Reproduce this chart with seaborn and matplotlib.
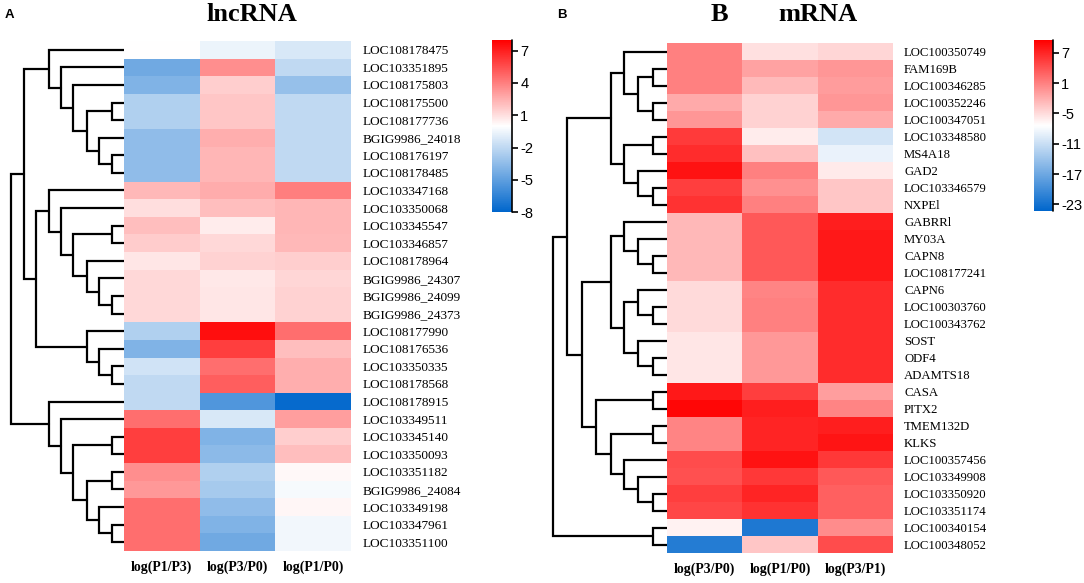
import numpy as np
import pandas as pd
import seaborn as sns
import matplotlib.pyplot as plt
from matplotlib.colors import LinearSegmentedColormap

sns.set_theme(style="white")
plt.rcParams["font.family"] = ["Liberation Serif", "DejaVu Serif"]
plt.rcParams["axes.unicode_minus"] = False
plt.rcParams["text.color"] = "black"
plt.rcParams["xtick.color"] = "black"
plt.rcParams["ytick.color"] = "black"

# --------------------------------------------------------------------
# data: lncRNA (panel A)
# --------------------------------------------------------------------
lnc_genes = ["LOC108178475", "LOC103351895", "LOC108175803", "LOC108175500", "LOC108177736",
             "BGIG9986_24018", "LOC108176197", "LOC108178485", "LOC103347168", "LOC103350068",
             "LOC103345547", "LOC103346857", "LOC108178964", "BGIG9986_24307", "BGIG9986_24099",
             "BGIG9986_24373", "LOC108177990", "LOC108176536", "LOC103350335", "LOC108178568",
             "LOC108178915", "LOC103349511", "LOC103345140", "LOC103350093", "LOC103351182",
             "BGIG9986_24084", "LOC103349198", "LOC103347961", "LOC103351100"]
lnc_cols = ["log(P1/P3)", "log(P3/P0)", "log(P1/P0)"]
lnc_p1_p3 = [0.0, -4.5, -4.0, -2.5, -2.5, -3.5, -3.5, -3.5, 2.2, 1.0,
             2.0, 1.6, 0.8, 1.2, 1.2, 1.2, -2.5, -4.0, -1.5, -2.0,
             -2.0, 4.5, 6.0, 6.0, 3.5, 3.2, 4.5, 4.5, 4.5]
lnc_p3_p0 = [-0.6, 3.5, 1.5, 1.8, 1.8, 2.5, 2.3, 2.3, 2.6, 2.0,
             0.6, 1.2, 1.4, 0.7, 0.8, 0.8, 7.5, 6.0, 4.5, 5.0,
             -5.5, -1.2, -4.0, -3.6, -2.5, -2.8, -3.5, -4.0, -4.5]
lnc_p1_p0 = [-1.2, -2.0, -3.3, -2.0, -2.0, -2.0, -2.0, -2.0, 4.0, 2.3,
             2.3, 2.2, 1.5, 1.3, 1.4, 1.4, 4.5, 2.0, 2.5, 2.5,
             -7.8, 3.0, 1.5, 2.0, 0.2, -0.3, 0.3, -0.4, -0.4]
lnc_ticks = [7, 4, 1, -2, -5, -8]
# tree: (first row, split row, end row, merge height)
lnc_tree = [(3, 4, 5, 12), (6, 7, 8, 12), (5, 6, 8, 25), (3, 5, 8, 37), (2, 3, 8, 51),
            (1, 2, 8, 63), (0, 1, 8, 75),
            (10, 11, 12, 12), (14, 15, 16, 12), (13, 14, 16, 25), (12, 13, 16, 37),
            (10, 12, 16, 51), (9, 10, 16, 63), (8, 9, 16, 75),
            (18, 19, 20, 12), (17, 18, 20, 25), (16, 17, 20, 37), (8, 16, 20, 88), (0, 8, 20, 100),
            (22, 23, 24, 12), (24, 25, 26, 12), (27, 28, 29, 12), (26, 27, 29, 25),
            (24, 26, 29, 37), (22, 24, 29, 51), (21, 22, 29, 63), (20, 21, 29, 75),
            (0, 20, 29, 113)]

# --------------------------------------------------------------------
# data: mRNA (panel B)
# --------------------------------------------------------------------
m_genes = ["LOC100350749", "FAM169B", "LOC100346285", "LOC100352246", "LOC100347051",
           "LOC103348580", "MS4A18", "GAD2", "LOC103346579", "NXPEl",
           "GABRRl", "MY03A", "CAPN8", "LOC108177241", "CAPN6",
           "LOC100303760", "LOC100343762", "SOST", "ODF4", "ADAMTS18",
           "CASA", "PITX2", "TMEM132D", "KLKS", "LOC100357456",
           "LOC103349908", "LOC103350920", "LOC103351174", "LOC100340154", "LOC100348052"]
m_cols = ["log(P3/P0)", "log(P1/P0)", "log(P3/P1)"]
m_p3_p0 = [1.0, 1.0, 1.0, -1.8, -0.5, 5.6, 6.5, 8.2, 5.3, 6.1,
           -2.7, -2.7, -2.7, -2.7, -4.9, -4.9, -4.9, -5.7, -5.7, -5.7,
           7.8, 9.0, 0.7, 0.7, 4.4, 4.1, 5.3, 4.8, -6.6, -21.8]
m_p1_p0 = [-5.4, -1.2, -2.8, -4.4, -4.4, -6.1, -3.3, 1.0, -0.1, 1.0,
           3.6, 3.6, 3.6, 3.6, 0.7, 1.0, 1.0, -0.6, -0.6, -0.6,
           5.3, 7.5, 7.0, 7.0, 8.3, 5.8, 7.0, 6.1, -22.3, -3.7]
m_p3_p1 = [-4.7, -0.5, -0.8, -0.5, -1.8, -10.4, -8.8, -6.0, -3.7, -3.7,
           7.5, 7.8, 7.8, 7.8, 6.5, 6.5, 6.5, 6.5, 6.5, 6.5,
           -1.0, 0.7, 7.5, 8.1, 5.8, 3.6, 3.1, 3.1, 0.2, 4.4]
m_ticks = [7, 1, -5, -11, -17, -23]
m_tree = [(1, 2, 3, 14), (3, 4, 5, 14), (1, 3, 5, 29), (0, 1, 5, 43),
          (5, 6, 7, 14), (8, 9, 10, 14), (7, 8, 10, 29), (5, 7, 10, 43), (0, 5, 10, 56),
          (12, 13, 14, 14), (11, 12, 14, 29), (10, 11, 14, 43),
          (15, 16, 17, 14), (14, 15, 17, 29), (18, 19, 20, 14), (17, 18, 20, 29),
          (14, 17, 20, 43), (10, 14, 20, 56),
          (20, 21, 22, 14), (22, 23, 24, 14), (26, 27, 28, 14), (25, 26, 28, 29),
          (24, 25, 28, 43), (22, 24, 28, 56), (20, 22, 28, 71),
          (10, 20, 28, 85), (0, 10, 28, 100), (28, 29, 30, 14), (0, 28, 30, 114)]

cmap = LinearSegmentedColormap.from_list("bwr_pub", ["#0066CC", "#FFFFFF", "#FF0000"])

W, H = 1084, 583


def rect(x0, y0, x1, y1):
    """pixel box (top-left origin) -> figure fraction"""
    return [x0 / W, 1 - y1 / H, (x1 - x0) / W, (y1 - y0) / H]


def draw_tree(ax, tree, n, top_h):
    """draw a row dendrogram, leaves on the right"""
    pos = {(i, i + 1): (i + 0.5, 0.0) for i in range(n)}
    for s, m, e, h in sorted(tree, key=lambda t: t[2] - t[0]):
        y1, h1 = pos[(s, m)]
        y2, h2 = pos[(m, e)]
        ax.plot([h1, h, h, h2], [y1, y1, y2, y2], color="black", lw=1.6,
                clip_on=False, solid_joinstyle="miter")
        pos[(s, e)] = ((y1 + y2) / 2, h)
    ax.set_xlim(top_h, 0)
    ax.set_ylim(n, 0)
    ax.axis("off")


def draw_heat(fig, df, heat_box, cbar_box, vmin, vmax, ticks, label_size):
    ax = fig.add_axes(rect(*heat_box))
    cax = fig.add_axes(rect(*cbar_box))
    sns.heatmap(df, ax=ax, cbar_ax=cax, cmap=cmap, vmin=vmin, vmax=vmax,
                yticklabels=True, xticklabels=True, linewidths=0,
                cbar_kws={"ticks": ticks})
    ax.yaxis.tick_right()
    ax.tick_params(axis="y", length=0, pad=8, labelsize=label_size, labelrotation=0,
                   labelcolor="black")
    ax.tick_params(axis="x", length=0, pad=7, labelrotation=0, labelcolor="black")
    for t in ax.get_xticklabels():
        t.set_fontweight("bold")
        t.set_fontsize(10)
    ax.set_xlabel("")
    ax.set_ylabel("")

    cbar = ax.collections[0].colorbar
    cbar.outline.set_visible(False)
    cax.tick_params(labelsize=10.5, length=4, width=1.2, color="black", labelcolor="black",
                    direction="out", pad=2)
    for t in cax.get_yticklabels():
        t.set_family(["Liberation Sans", "DejaVu Sans"])
    cax.plot([1, 1], [0, 1], transform=cax.transAxes, color="black", lw=1.2, clip_on=False)
    return ax


fig = plt.figure(figsize=(W / 100, H / 100), dpi=100)

# ---------- panel A ----------
lnc_df = pd.DataFrame({lnc_cols[0]: lnc_p1_p3, lnc_cols[1]: lnc_p3_p0,
                       lnc_cols[2]: lnc_p1_p0}, index=lnc_genes)
ax_d = fig.add_axes(rect(11, 41, 124, 551))
draw_tree(ax_d, lnc_tree, len(lnc_genes), 113)
draw_heat(fig, lnc_df, (124, 41, 351, 551), (492, 40, 512, 212), -8, 8, lnc_ticks, 9.5)

# ---------- panel B ----------
m_df = pd.DataFrame({m_cols[0]: m_p3_p0, m_cols[1]: m_p1_p0,
                     m_cols[2]: m_p3_p1}, index=m_genes)
ax_d2 = fig.add_axes(rect(553, 43, 667, 553))
draw_tree(ax_d2, m_tree, len(m_genes), 114)
draw_heat(fig, m_df, (667, 43, 893, 553), (1034, 40, 1053, 211), -24.3, 9.5, m_ticks, 9.2)

# ---------- titles ----------
fig.text(5 / W, 1 - 18 / H, "A", fontsize=9.5, fontweight="bold",
         family=["Liberation Sans", "DejaVu Sans"], va="baseline")
fig.text(557 / W, 1 - 18 / H, "B", fontsize=9.5, fontweight="bold",
         family=["Liberation Sans", "DejaVu Sans"], va="baseline")
fig.text(252 / W, 1 - 21 / H, "lncRNA", fontsize=19, fontweight="bold", ha="center", va="baseline")
fig.text(719 / W, 1 - 21 / H, "B", fontsize=19, fontweight="bold", ha="center", va="baseline")
fig.text(818 / W, 1 - 21 / H, "mRNA", fontsize=19, fontweight="bold", ha="center", va="baseline")

fig.savefig("out.png", dpi=100)
